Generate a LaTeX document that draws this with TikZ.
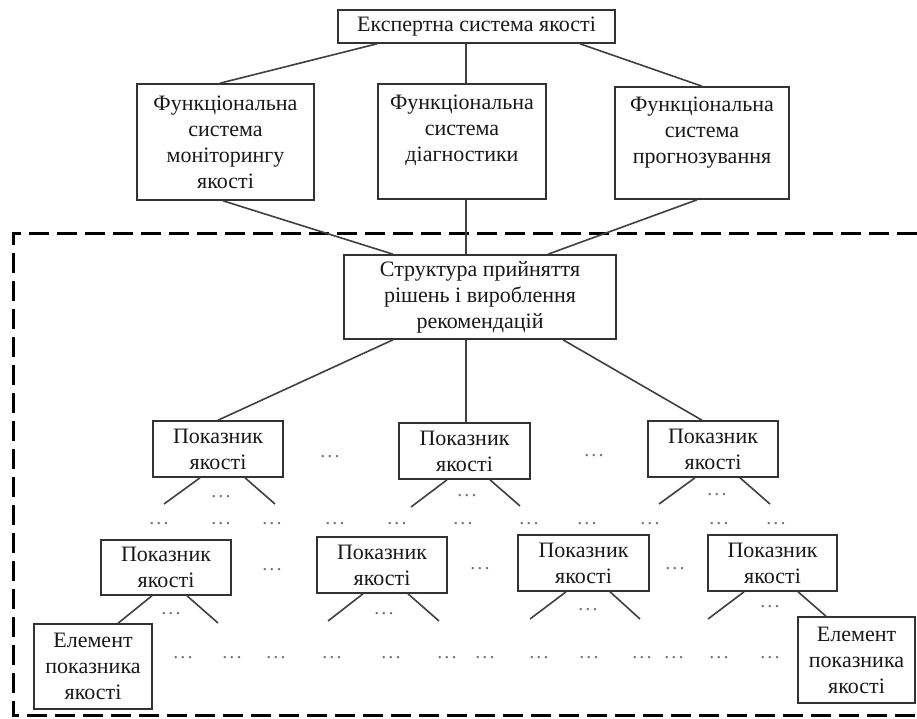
\documentclass[tikz,border=0pt]{standalone}
\usepackage{fontspec}
\setmainfont{Liberation Serif}
\newcommand{\mydots}{.\kern2.2pt.\kern2.2pt.}
\begin{document}
\begin{tikzpicture}[x=1pt,y=-1pt,
  box/.style={draw=black!80,line width=1.6pt,fill=white,rectangle,inner sep=0pt,align=center,
    font=\fontsize{22}{26}\selectfont,text=black!90},
  conn/.style={draw=black!75,line width=1.6pt},
  dots/.style={inner sep=0pt,text=black!55,font=\fontsize{20}{24}\selectfont},
  dashframe/.style={draw=black,line width=3pt,dash pattern=on 20pt off 8pt}]
\useasboundingbox[fill=white] (0,0) rectangle (917,718);
% dashed frame
\draw[dashframe] (917,233) -- (13,233) -- (13,715) -- (917,715);
% boxes
\node[box,minimum width=277pt,minimum height=33pt] (T) at (476.5,26.5) {Експертна система якості};
\node[box,minimum width=177pt,minimum height=116pt] (F1) at (225.5,142) {Функціональна\\система\\моніторингу\\якості};
\node[box,minimum width=168pt,minimum height=115pt] (F2) at (462,141.5) {Функціональна\\система\\діагностики\\\mbox{}};
\node[box,minimum width=174pt,minimum height=112pt] (F3) at (702,143) {Функціональна\\система\\прогнозування\\\mbox{}};
\node[box,minimum width=272pt,minimum height=84pt] (C) at (480,297) {Структура прийняття\\рішень і вироблення\\рекомендацій};
\node[box,minimum width=130pt,minimum height=56pt] (P1) at (218,449) {Показник\\якості};
\node[box,minimum width=131pt,minimum height=56pt] (P2) at (464.5,451) {Показник\\якості};
\node[box,minimum width=130pt,minimum height=56pt] (P3) at (713,449) {Показник\\якості};
\node[box,minimum width=130pt,minimum height=55pt] (Q1) at (166,567.5) {Показник\\якості};
\node[box,minimum width=130pt,minimum height=56pt] (Q2) at (382,565) {Показник\\якості};
\node[box,minimum width=131pt,minimum height=56pt] (Q3) at (583.5,563) {Показник\\якості};
\node[box,minimum width=129pt,minimum height=56pt] (Q4) at (772.5,563) {Показник\\якості};
\node[box,minimum width=118pt,minimum height=85pt] (E1) at (93,666.5) {Елемент\\показника\\якості};
\node[box,minimum width=117pt,minimum height=86pt] (E2) at (856.5,660) {Елемент\\показника\\якості};
% connectors top
\draw[conn] ([xshift=-99.5pt]T.south) -- ([xshift=-5.5pt]F1.north);
\draw[conn] ([xshift=-10.5pt]T.south) -- ([xshift=4pt]F2.north);
\draw[conn] ([xshift=103.5pt]T.south) -- (F3.north);
\draw[conn] ([xshift=-2.5pt]F1.south) -- ([xshift=-87pt]C.north);
\draw[conn] ([xshift=4pt]F2.south) -- ([xshift=-14pt]C.north);
\draw[conn] ([xshift=-5pt]F3.south) -- ([xshift=68pt]C.north);
\draw[conn] ([xshift=-87pt]C.south) -- (P1.north);
\draw[conn] ([xshift=-14pt]C.south) -- ([xshift=1.5pt]P2.north);
\draw[conn] ([xshift=83pt]C.south) -- ([xshift=-11pt]P3.north);
% sub branches (free ends)
\coordinate (a1) at (164,504); \coordinate (a2) at (275,504);
\coordinate (b1) at (411,507); \coordinate (b2) at (520,506);
\coordinate (c1) at (659,504); \coordinate (c2) at (770,504);
\draw[conn] ([xshift=-18pt]P1.south) -- (a1);
\draw[conn] ([xshift=27pt]P1.south) -- (a2);
\draw[conn] ([xshift=-17.5pt]P2.south) -- (b1);
\draw[conn] ([xshift=25.5pt]P2.south) -- (b2);
\draw[conn] ([xshift=-18pt]P3.south) -- (c1);
\draw[conn] ([xshift=27pt]P3.south) -- (c2);
\coordinate (e2) at (218,623);
\coordinate (f1) at (328,621); \coordinate (f2) at (439,621);
\coordinate (g1) at (530,619); \coordinate (g2) at (640,619);
\coordinate (h1) at (708,619);
\draw[conn] ([xshift=-14pt]Q1.south) -- ([xshift=25pt]E1.north);
\draw[conn] ([xshift=21pt]Q1.south) -- (e2);
\draw[conn] ([xshift=-19pt]Q2.south) -- (f1);
\draw[conn] ([xshift=26pt]Q2.south) -- (f2);
\draw[conn] ([xshift=-17.5pt]Q3.south) -- (g1);
\draw[conn] ([xshift=26.5pt]Q3.south) -- (g2);
\draw[conn] ([xshift=-28.5pt]Q4.south) -- (h1);
\draw[conn] ([xshift=25.5pt]Q4.south) -- ([xshift=-30.5pt]E2.north);
% dots
\node[dots] (m1) at (330,457) {\mydots};
\node[dots] (m2) at (594,456) {\mydots};
\node[dots] (u1) at (221,497) {\mydots};
\node[dots] (u2) at (467,496) {\mydots};
\node[dots] (u3) at (717,495) {\mydots};
\foreach \x [count=\i] in {159,221,272,335,397,463,529,587,650,719,776}
  \node[dots] (r\i) at (\x,524) {\mydots};
\node[dots] (n1) at (272,570) {\mydots};
\node[dots] (n2) at (480,569) {\mydots};
\node[dots] (n3) at (675,569) {\mydots};
\node[dots] (v1) at (171,614) {\mydots};
\node[dots] (v2) at (384,614) {\mydots};
\node[dots] (v3) at (588,610) {\mydots};
\node[dots] (v4) at (770,607) {\mydots};
\foreach \x [count=\i] in {183,232,276,332,391,447,485,539,589,642,674,719,770}
  \node[dots] (s\i) at (\x,658) {\mydots};
\end{tikzpicture}
\end{document}
